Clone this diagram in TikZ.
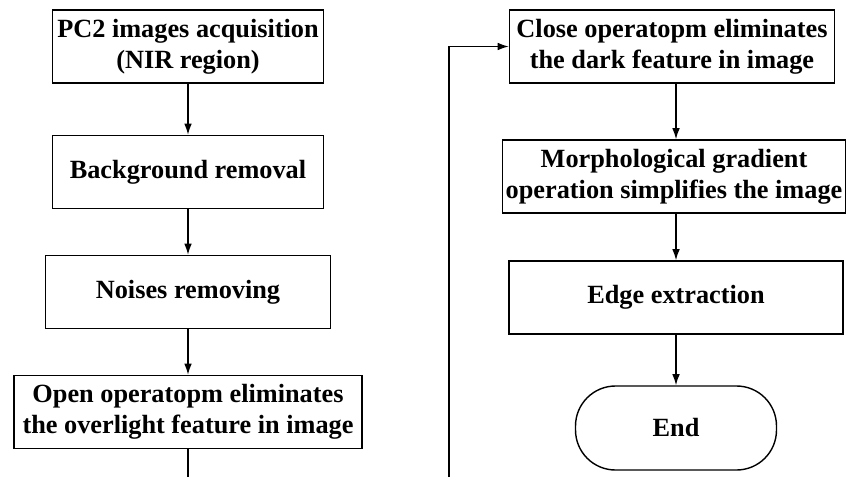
\documentclass[tikz,border=0pt]{standalone}
\usepackage{fontspec}
\setmainfont{Liberation Serif}
\usetikzlibrary{arrows.meta}
\tikzset{
	stepbox/.style={draw, line width=1pt, align=center, inner sep=0pt, font=\bfseries\fontsize{18.7}{22}\selectfont, minimum height=1.825cm},
	endbox/.style={stepbox, rounded corners=1cm, minimum height=2.1cm}
}
\begin{document}
\begin{tikzpicture}[>={Latex[length=8pt, width=5.5pt]}, line width=1pt]
	\useasboundingbox (0, 0) rectangle (21.225, -11.925);

	\node[stepbox, minimum width=6.775cm] (acq) at (4.7, -1.1625) {PC2 images acquisition\\(NIR region)};
	\node[stepbox, minimum width=6.775cm] (bg) at (4.7, -4.3) {Background removal};
	\node[stepbox, minimum width=7.125cm] (noise) at (4.7, -7.3) {Noises removing};
	\node[stepbox, minimum width=8.7cm] (open) at (4.7, -10.3) {Open operatopm eliminates\\the overlight feature in image};

	\node[stepbox, minimum width=8.125cm] (close) at (16.8, -1.1625) {Close operatopm eliminates\\the dark feature in image};
	\node[stepbox, minimum width=8.575cm] (grad) at (16.85, -4.4125) {Morphological gradient\\operation simplifies the image};
	\node[stepbox, minimum width=8.35cm] (edge) at (16.9, -7.4375) {Edge extraction};
	\node[endbox, minimum width=5.025cm] (end) at (16.9, -10.7) {End};

	\coordinate (cutL) at (4.7, -11.925);
	\coordinate (cutR) at (11.225, -11.925);

	\draw[->] (acq) -- (bg);
	\draw[->] (bg) -- (noise);
	\draw[->] (noise) -- (open);
	\draw (open) -- (cutL);

	\draw[->] (cutR) |- (close.west);
	\draw[->] (close.south -| edge) -- (grad.north -| edge);
	\draw[->] (grad.south -| edge) -- (edge);
	\draw[->] (edge) -- (end);
\end{tikzpicture}
\end{document}
